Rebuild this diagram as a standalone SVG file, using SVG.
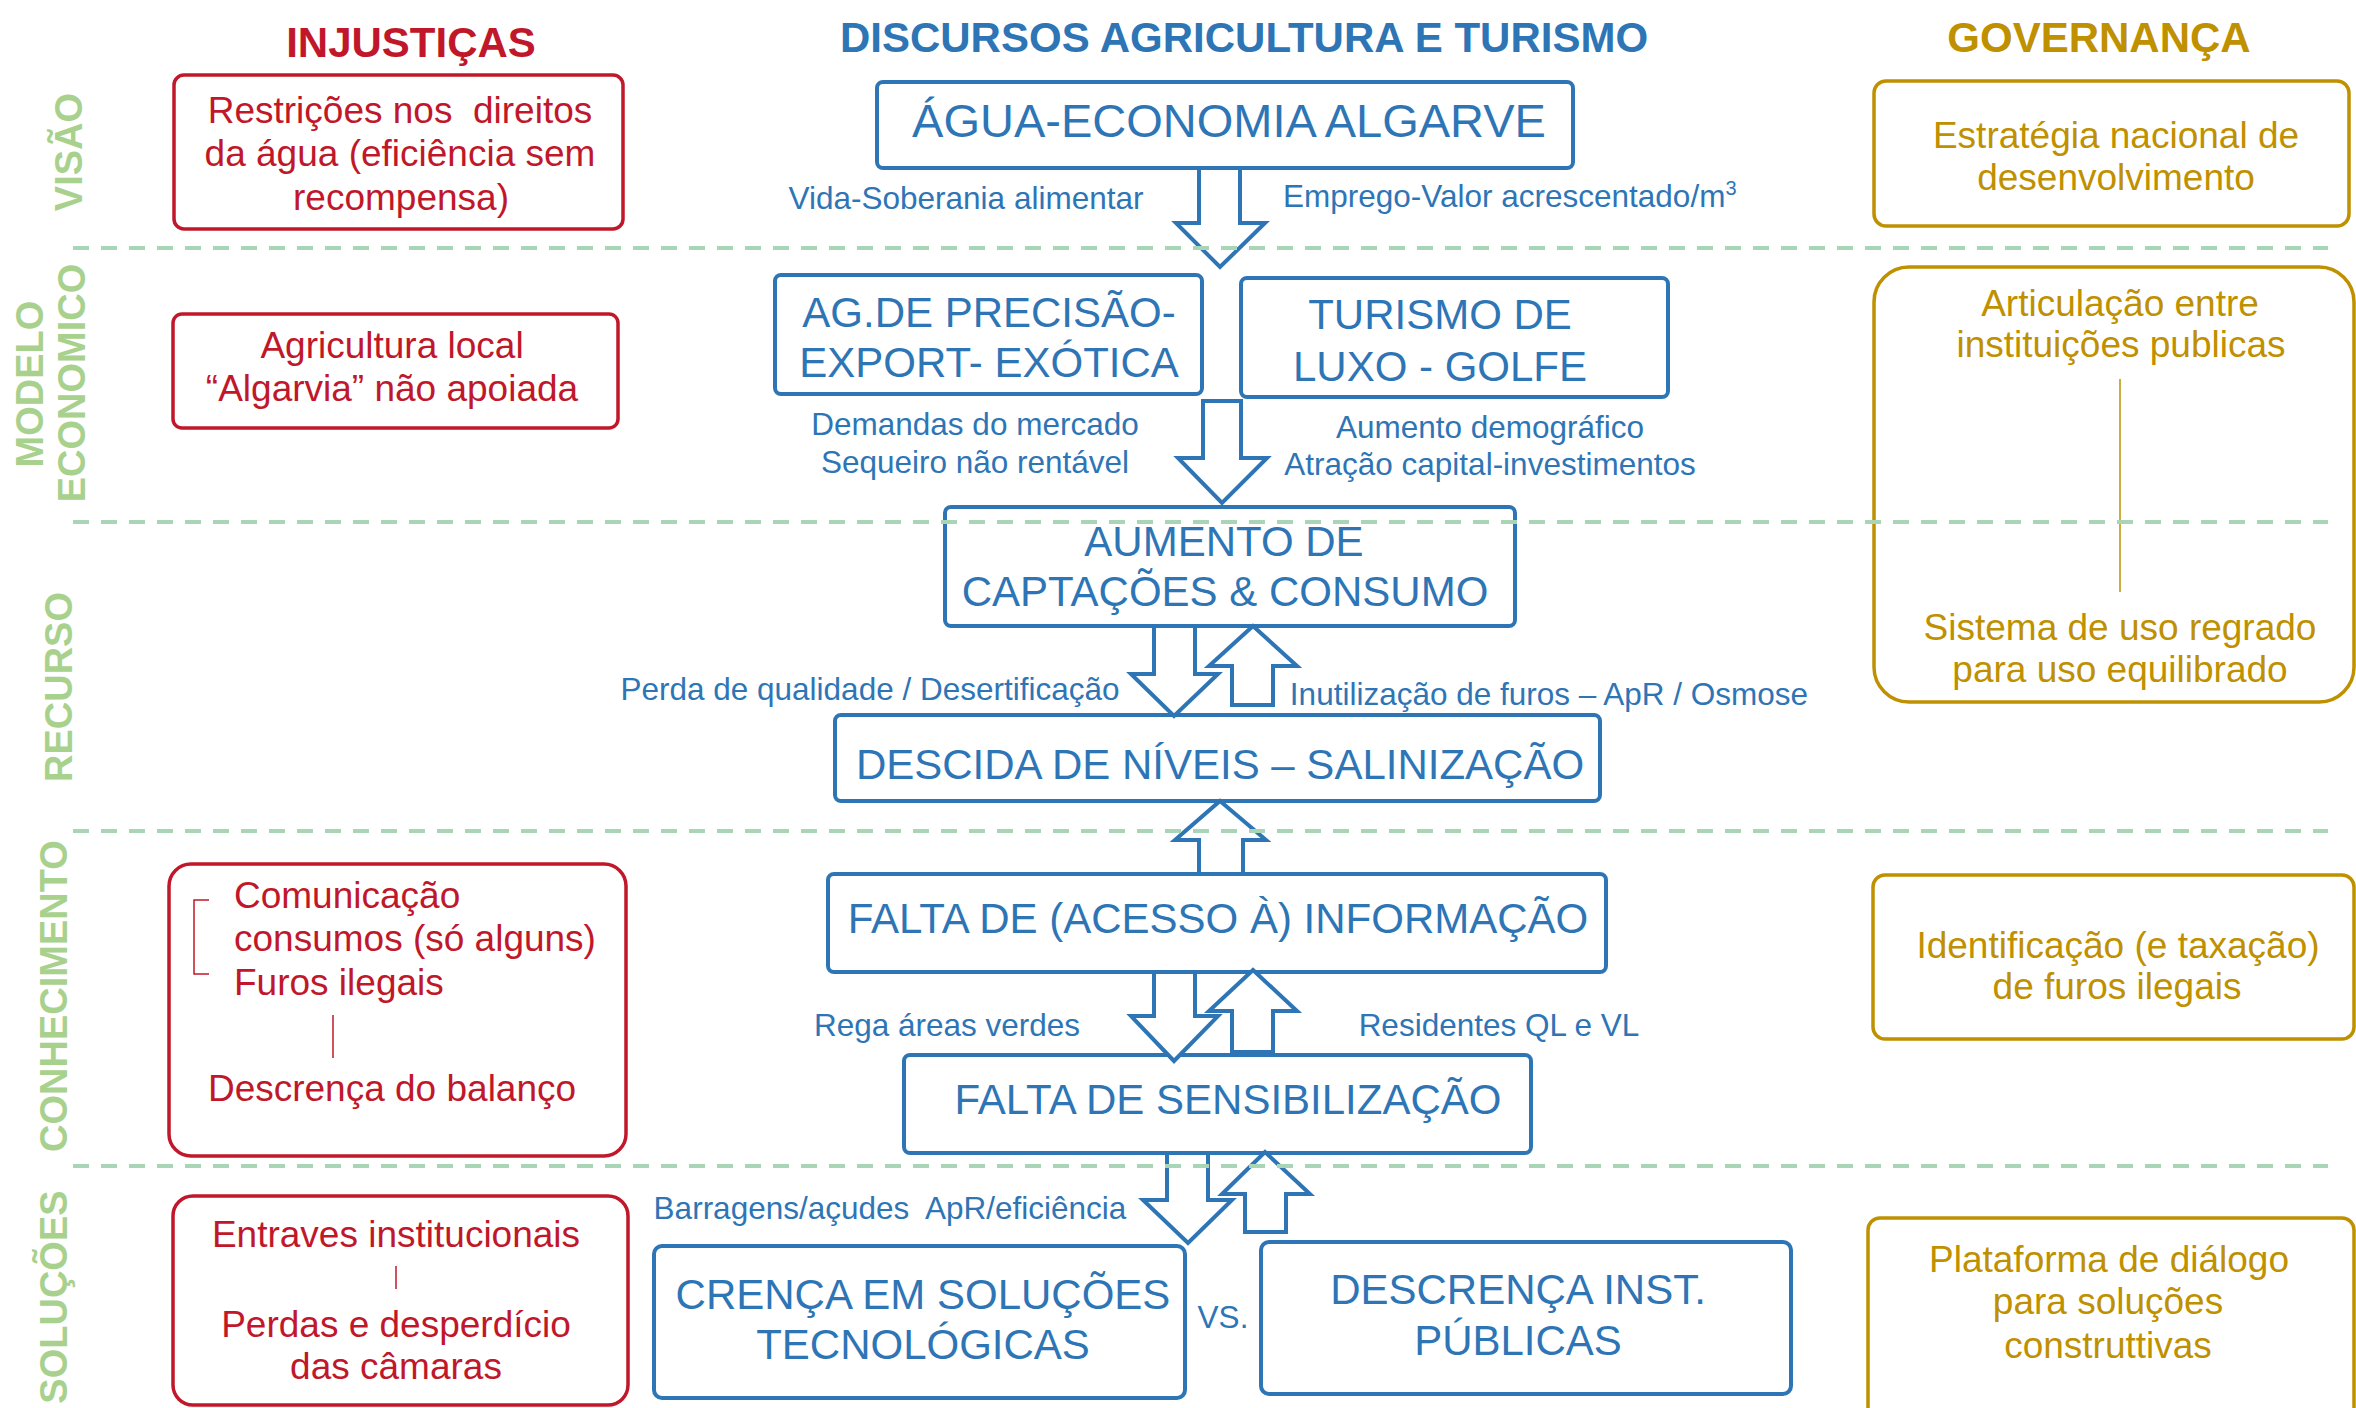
<svg xmlns="http://www.w3.org/2000/svg" width="2356" height="1408" viewBox="0 0 2356 1408">
<style>
text{font-family:"Liberation Sans",Arial,sans-serif;}
.ttl{font-size:42px;font-weight:bold;text-anchor:middle;}
.sec{font-size:38px;font-weight:bold;fill:#a9d18e;text-anchor:middle;}
.bb{fill:#fff;stroke:#2e75b6;stroke-width:4;}
.rb{fill:#fff;stroke:#c0182a;stroke-width:3.5;}
.gb{fill:#fff;stroke:#bf9000;stroke-width:3.5;}
.bt{fill:#2e75b6;font-size:42px;text-anchor:middle;}
.bt47{fill:#2e75b6;font-size:47px;text-anchor:middle;}
.bs{fill:#2e75b6;font-size:31.5px;text-anchor:middle;}
.bss{fill:#2e75b6;font-size:31.5px;text-anchor:start;}
.rt{fill:#c0182a;font-size:37px;text-anchor:middle;}
.rts{fill:#c0182a;font-size:37px;text-anchor:start;}
.gt{fill:#bf9000;font-size:37px;text-anchor:middle;}
.arr{fill:#fff;stroke:#2e75b6;stroke-width:4;stroke-linejoin:miter;}
.sep{stroke:#a8d5b6;stroke-width:4;stroke-dasharray:16 12;fill:none;}
.thinr{stroke:#c0182a;stroke-width:1.5;fill:none;}
</style>
<rect width="2356" height="1408" fill="#fff"/>

<g id="titles">
<text class="ttl" x="411" y="57" fill="#c0182a">INJUSTIÇAS</text>
<text class="ttl" x="1244" y="52" fill="#2e75b6">DISCURSOS AGRICULTURA E TURISMO</text>
<text class="ttl" x="2099" y="52" fill="#bf9000">GOVERNANÇA</text>
</g>

<g id="sections">
<text class="sec" transform="translate(82,152) rotate(-90)">VISÃO</text>
<text class="sec" transform="translate(43,384) rotate(-90)">MODELO</text>
<text class="sec" transform="translate(85,383) rotate(-90)">ECONOMICO</text>
<text class="sec" transform="translate(72,687) rotate(-90)">RECURSO</text>
<text class="sec" transform="translate(67,996) rotate(-90)">CONHECIMENTO</text>
<text class="sec" transform="translate(67,1297) rotate(-90)">SOLUÇÕES</text>
</g>

<!-- Injustiças column -->
<g id="inj-visao">
<rect class="rb" x="174" y="75" width="449" height="154" rx="10"/>
<text class="rt" x="400" y="123">Restrições nos&#160; direitos</text>
<text class="rt" x="400" y="166">da água (eficiência sem</text>
<text class="rt" x="401" y="210">recompensa)</text>
</g>
<g id="inj-modelo">
<rect class="rb" x="173" y="314" width="445" height="114" rx="9"/>
<text class="rt" x="392" y="358">Agricultura local</text>
<text class="rt" x="392" y="401">“Algarvia” não apoiada</text>
</g>
<g id="inj-conhecimento">
<rect class="rb" x="169" y="864" width="457" height="292" rx="22"/>
<text class="rts" x="234" y="908">Comunicação</text>
<text class="rts" x="234" y="951">consumos (só alguns)</text>
<text class="rts" x="234" y="995">Furos ilegais</text>
<path class="thinr" d="M209,900 H194 V974 H209"/>
<line class="thinr" x1="333" y1="1015" x2="333" y2="1058"/>
<text class="rt" x="392" y="1101">Descrença do balanço</text>
</g>
<g id="inj-solucoes">
<rect class="rb" x="173" y="1196" width="455" height="209" rx="20"/>
<text class="rt" x="396" y="1247">Entraves institucionais</text>
<line class="thinr" x1="396" y1="1266" x2="396" y2="1289"/>
<text class="rt" x="396" y="1337">Perdas e desperdício</text>
<text class="rt" x="396" y="1379">das câmaras</text>
</g>

<!-- Central column -->
<g id="agua-economia">
<rect class="bb" x="877" y="82" width="696" height="86" rx="6"/>
<text class="bt47" x="1229" y="137">ÁGUA-ECONOMIA ALGARVE</text>
</g>
<g id="ag-precisao">
<rect class="bb" x="775" y="275" width="427" height="119" rx="6"/>
<text class="bt" x="989" y="327">AG.DE PRECISÃO-</text>
<text class="bt" x="989" y="377">EXPORT- EXÓTICA</text>
</g>
<g id="turismo">
<rect class="bb" x="1241" y="278" width="427" height="119" rx="6"/>
<text class="bt" x="1440" y="329">TURISMO DE</text>
<text class="bt" x="1440" y="381">LUXO - GOLFE</text>
</g>
<g id="aumento">
<rect class="bb" x="945" y="507" width="570" height="119" rx="6"/>
<text class="bt" x="1224" y="556">AUMENTO DE</text>
<text class="bt" x="1225" y="606">CAPTAÇÕES &amp; CONSUMO</text>
</g>
<g id="descida">
<rect class="bb" x="835" y="715" width="765" height="86" rx="6"/>
<text class="bt" x="1220" y="779">DESCIDA DE NÍVEIS – SALINIZAÇÃO</text>
</g>
<g id="falta-informacao">
<rect class="bb" x="828" y="874" width="778" height="98" rx="6"/>
<text class="bt" x="1218" y="933">FALTA DE (ACESSO À) INFORMAÇÃO</text>
</g>
<g id="falta-sensibilizacao">
<rect class="bb" x="904" y="1055" width="627" height="98" rx="6"/>
<text class="bt" x="1228" y="1114">FALTA DE SENSIBILIZAÇÃO</text>
</g>
<g id="crenca">
<rect class="bb" x="654" y="1246" width="531" height="152" rx="8"/>
<text class="bt" x="923" y="1309">CRENÇA EM SOLUÇÕES</text>
<text class="bt" x="923" y="1359">TECNOLÓGICAS</text>
</g>
<g id="vs">
<text class="bs" x="1223" y="1328">VS.</text>
</g>
<g id="descrenca">
<rect class="bb" x="1261" y="1242" width="530" height="152" rx="8"/>
<text class="bt" x="1518" y="1304">DESCRENÇA INST.</text>
<text class="bt" x="1518" y="1355">PÚBLICAS</text>
</g>

<!-- Governança column -->
<g id="gov-estrategia">
<rect class="gb" x="1874" y="81" width="475" height="145" rx="12"/>
<text class="gt" x="2116" y="148">Estratégia nacional de</text>
<text class="gt" x="2116" y="190">desenvolvimento</text>
</g>
<g id="gov-articulacao">
<rect class="gb" x="1874" y="267" width="480" height="435" rx="35"/>
<text class="gt" x="2120" y="316">Articulação entre</text>
<text class="gt" x="2121" y="357">instituições publicas</text>
<line x1="2120" y1="379" x2="2120" y2="592" stroke="#bf9000" stroke-width="1.5"/>
<text class="gt" x="2120" y="640">Sistema de uso regrado</text>
<text class="gt" x="2120" y="682">para uso equilibrado</text>
</g>
<g id="gov-identificacao">
<rect class="gb" x="1873" y="875" width="481" height="164" rx="12"/>
<text class="gt" x="2118" y="958">Identificação (e taxação)</text>
<text class="gt" x="2117" y="999">de furos ilegais</text>
</g>
<g id="gov-plataforma">
<rect class="gb" x="1868" y="1218" width="486" height="210" rx="12"/>
<text class="gt" x="2109" y="1272">Plataforma de diálogo</text>
<text class="gt" x="2108" y="1314">para soluções</text>
<text class="gt" x="2108" y="1358">construttivas</text>
</g>

<!-- Connectors: block arrows and their labels -->
<g id="connectors">
<polygon class="arr" points="1199,168 1240,168 1240,223 1265,223 1220,267 1176,223 1199,223"/>
<polygon class="arr" points="1203,401 1241,401 1241,458 1267,458 1222,503 1178,458 1203,458"/>
<polygon class="arr" points="1154,626 1195,626 1195,674 1218,674 1174,716 1131,674 1154,674"/>
<polygon class="arr" points="1253,626 1297,666 1273,666 1273,705 1232,705 1232,666 1209,666"/>
<polygon class="arr" points="1220,801 1266,840 1243,840 1243,874 1199,874 1199,840 1175,840"/>
<polygon class="arr" points="1154,972 1195,972 1195,1016 1218,1016 1174,1061 1131,1016 1154,1016"/>
<polygon class="arr" points="1253,970 1297,1011 1273,1011 1273,1052 1232,1052 1232,1011 1209,1011"/>
<polygon class="arr" points="1167,1153 1208,1153 1208,1200 1232,1200 1188,1243 1143,1200 1167,1200"/>
<polygon class="arr" points="1265,1152 1310,1194 1286,1194 1286,1232 1245,1232 1245,1194 1222,1194"/>

<text class="bs" x="966" y="209">Vida-Soberania alimentar</text>
<text class="bss" x="1283" y="207">Emprego-Valor acrescentado/m<tspan style="font-size:20px" dy="-12">3</tspan></text>
<text class="bs" x="975" y="435">Demandas do mercado</text>
<text class="bs" x="975" y="473">Sequeiro não rentável</text>
<text class="bs" x="1490" y="438">Aumento demográfico</text>
<text class="bs" x="1490" y="475">Atração capital-investimentos</text>
<text class="bs" x="870" y="700">Perda de qualidade / Desertificação</text>
<text class="bs" x="1549" y="705">Inutilização de furos – ApR / Osmose</text>
<text class="bs" x="947" y="1036">Rega áreas verdes</text>
<text class="bs" x="1499" y="1036">Residentes QL e VL</text>
<text class="bs" x="890" y="1219">Barragens/açudes&#160; ApR/eficiência</text>
</g>

<g id="separators">
<line class="sep" x1="73" y1="248" x2="2328" y2="248"/>
<line class="sep" x1="73" y1="522" x2="2328" y2="522"/>
<line class="sep" x1="73" y1="831" x2="2328" y2="831"/>
<line class="sep" x1="73" y1="1166" x2="2328" y2="1166"/>
</g>
</svg>
